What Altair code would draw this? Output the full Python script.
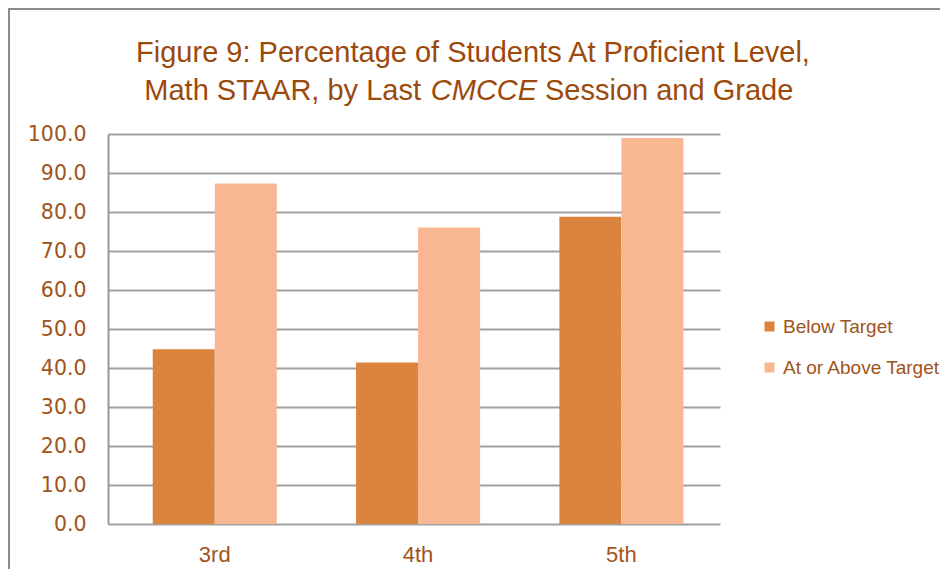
import altair as alt
import pandas as pd

grades = ["3rd", "4th", "5th"]
series = ["Below Target", "At or Above Target"]
below = [44.8, 41.4, 78.8]
above = [87.3, 76.0, 99.0]
colors = ["#DB843D", "#F8B692"]
y_ticks = [0, 10, 20, 30, 40, 50, 60, 70, 80, 90, 100]

title1 = "Figure 9: Percentage of Students At Proficient Level,"
title2a = "Math STAAR, by Last"
title2b = "CMCCE"
title2c = "Session and Grade"

rows = []
for g, b, a in zip(grades, below, above):
    rows.append({"grade": g, "series": series[0], "value": b})
    rows.append({"grade": g, "series": series[1], "value": a})
df = pd.DataFrame(rows)

TITLE_COLOR = "#9C4A0B"
LABEL_COLOR = "#A0541A"
FONT = "Liberation Sans"

bars = alt.Chart(df).mark_bar().encode(
    x=alt.X("grade:N", sort=grades,
            scale=alt.Scale(paddingInner=0.39, paddingOuter=0.2, align=0.55),
            axis=alt.Axis(title=None, labelAngle=0, ticks=False, domain=False,
                          labelFont=FONT, labelFontSize=22, labelColor=LABEL_COLOR,
                          labelPadding=20)),
    xOffset=alt.XOffset("series:N", sort=series, scale=alt.Scale(paddingInner=0, paddingOuter=0)),
    y=alt.Y("value:Q", scale=alt.Scale(domain=[0, 100]),
            axis=alt.Axis(title=None, values=y_ticks, format=".1f", ticks=False,
                          domainColor="#999999", domainWidth=2,
                          gridColor="#A0A0A0", gridWidth=2,
                          labelFont="DejaVu Sans", labelFontSize=20.5, labelColor=LABEL_COLOR,
                          labelPadding=22)),
    color=alt.Color("series:N", sort=series,
                    scale=alt.Scale(domain=series, range=colors),
                    legend=alt.Legend(title=None, orient="none", legendX=652, legendY=183,
                                      symbolType="square", symbolSize=100, symbolStrokeWidth=0,
                                      labelFont=FONT, labelFontSize=19,
                                      labelColor=LABEL_COLOR, rowPadding=21, labelOffset=4)),
)

def txt(s, xpos, ypos, align="center", italic=False):
    return alt.Chart(pd.DataFrame({"t": [s]})).mark_text(
        font=FONT, fontSize=29, color=TITLE_COLOR, align=align, baseline="alphabetic",
        fontStyle="italic" if italic else "normal",
    ).encode(text="t:N", x=alt.value(xpos), y=alt.value(ypos))

t1 = txt(title1, 473 - 108, 62 - 134)
t2a = txt(title2a, 421 - 108, 100 - 134, align="right")
t2b = txt(title2b, 484 - 108, 100 - 134, italic=True)
t2c = txt(title2c, 545 - 108, 100 - 134, align="left")

border = alt.Chart(pd.DataFrame({"a": [0]})).mark_rect(
    fillOpacity=0, stroke="#8C8C8C", strokeWidth=2
).encode(x=alt.value(-99), x2=alt.value(900), y=alt.value(-125), y2=alt.value(600))

chart = alt.layer(border, bars, t1, t2a, t2b, t2c).properties(
    width=612, height=390,
    padding={"left": 100, "top": 126, "right": 220, "bottom": 45},
    autosize=alt.AutoSizeParams(type="none"),
).configure_view(strokeOpacity=0)

chart.save("out.html", embed_options={"renderer": "svg", "actions": False})
